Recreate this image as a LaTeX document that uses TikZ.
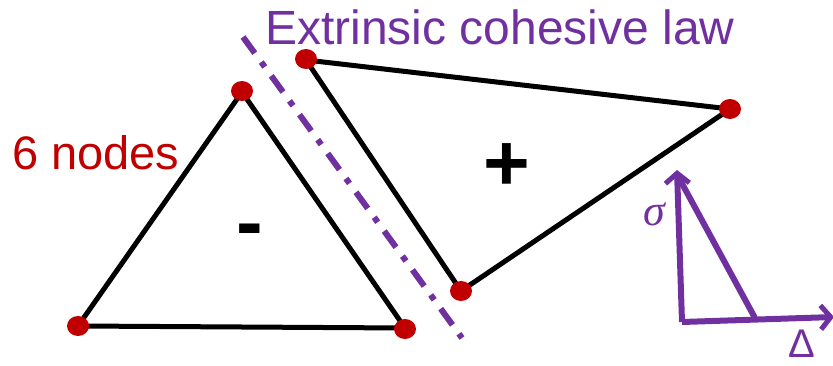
\documentclass[tikz,border=0pt]{standalone}
\usepackage{fontspec}
\setmainfont{Liberation Sans}
\newfontfamily\serifgreek{Liberation Serif}
\usetikzlibrary{arrows.meta,shapes.geometric}
\definecolor{nodered}{RGB}{192,0,0}
\definecolor{lawpurple}{RGB}{112,48,160}
\tikzset{
  edge/.style={line width=5pt, black, line join=round},
  dot/.style={ellipse, fill=nodered, minimum width=22pt, minimum height=20pt, inner sep=0pt},
  axis/.style={line width=6pt, lawpurple, -{Straight Barb[length=10pt, width=24pt, line width=5pt]}},
  plaw/.style={line width=6pt, lawpurple},
  cut/.style={line width=6pt, lawpurple, dash pattern=on 20pt off 11pt on 6pt off 11pt},
}
\begin{document}
\begin{tikzpicture}[x=1pt,y=-1pt]
\useasboundingbox (0,0) rectangle (833,366);
% left triangle vertices
\coordinate (lt) at (242,92);
\coordinate (lbl) at (78,326);
\coordinate (lbr) at (405,328);
% right triangle vertices
\coordinate (rtl) at (306,60);
\coordinate (rr) at (730,109);
\coordinate (rb) at (461,291);
% cut line
\coordinate (c1) at (243,37);
\coordinate (c2) at (462,338);
\draw[cut] (c1) -- (c2);
\draw[edge] (lt) -- (lbl) -- (lbr) -- cycle;
\draw[edge] (rtl) -- (rr) -- (rb) -- cycle;
\node[dot] (n1) at (242,91) {};
\node[dot] (n2) at (78,326) {};
\node[dot] (n3) at (405,329) {};
\node[dot] (n4) at (306,59) {};
\node[dot] (n5) at (730,109) {};
\node[dot] (n6) at (461,291) {};
% texts
\node[anchor=base west, inner sep=0pt, text=lawpurple, font=\fontsize{48}{58}\selectfont] (title) at (265,45) {Extrinsic cohesive law};
\node[anchor=base west, inner sep=0pt, text=nodered, font=\fontsize{47}{56}\selectfont] (six) at (12,170) {6 nodes};
\node[inner sep=0pt, font=\fontsize{80}{90}\selectfont\bfseries] (plus) at (506.5,167.5) {+};
\node[inner sep=0pt, font=\fontsize{80}{90}\selectfont\bfseries] (minus) at (250,237) {-};
% cohesive law
\coordinate (o) at (682,322);
\coordinate (ytip) at (677,170);
\coordinate (xtip) at (834,317);
\coordinate (peak) at (679,178);
\coordinate (dend) at (755,318);
\draw[axis] (o) -- (ytip);
\draw[axis] (o) -- (xtip);
\draw[plaw] (peak) -- (dend);
\node[text=lawpurple, inner sep=0pt, anchor=base, font=\fontsize{44}{50}\selectfont\serifgreek\itshape] (sig) at (654,226) {σ};
\node[text=lawpurple, inner sep=0pt, anchor=base, font=\fontsize{40}{48}\selectfont] (del) at (802,357) {Δ};
\end{tikzpicture}
\end{document}
